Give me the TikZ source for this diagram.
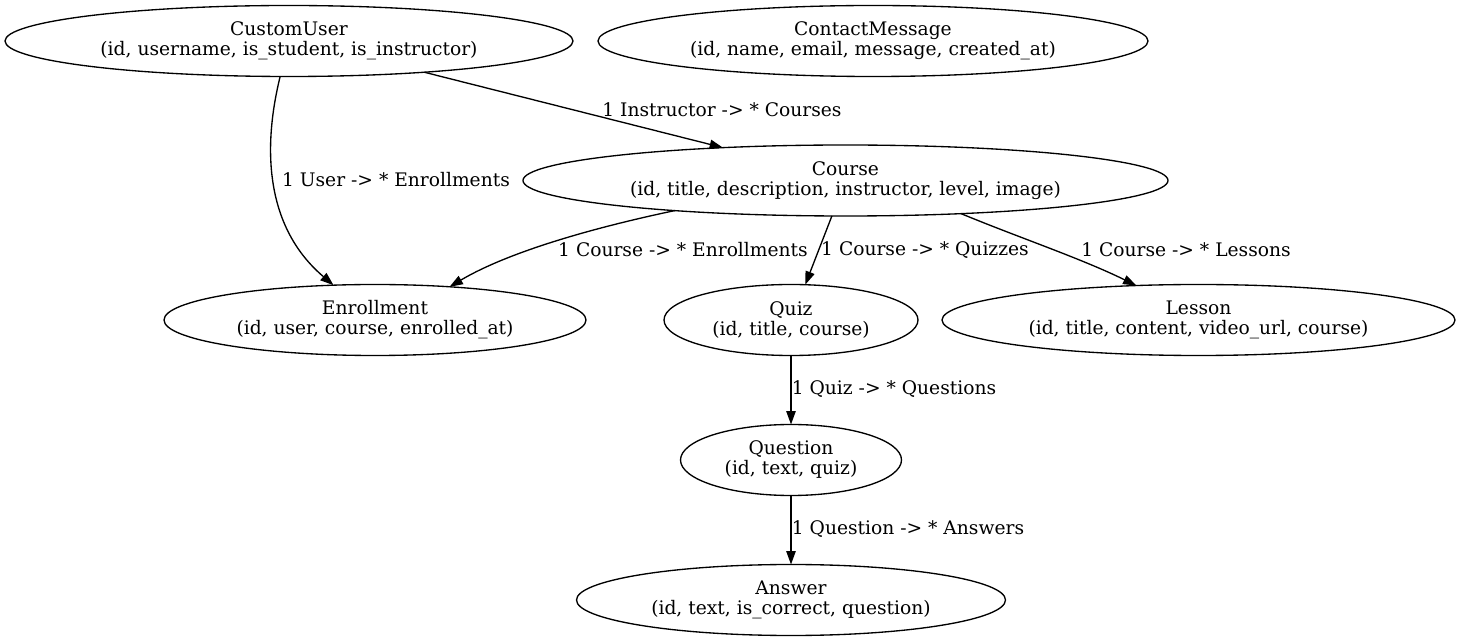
\documentclass[tikz,border=0pt]{standalone}
\usepackage{fontspec}
\setmainfont{DejaVu Serif}
\usetikzlibrary{shapes.geometric,arrows.meta}

\begin{document}
\begin{tikzpicture}[x=0.75pt,y=-0.75pt,
	ent/.style={draw,ellipse,line width=1pt,inner sep=0,outer sep=0,minimum height=53.25pt,align=center,font=\fontsize{14}{15}\selectfont},
	lab/.style={inner sep=0,font=\fontsize{14}{15}\selectfont},
	rel/.style={line width=1pt,-{Triangle[length=10pt,width=7pt]}}]
	\useasboundingbox (0,0) rectangle (1461,641);
	\node[ent,minimum width=426pt] (user) at (289,41) {CustomUser\\(id, username, is\_student, is\_instructor)};
	\node[ent,minimum width=412.5pt] (contact) at (873,41) {ContactMessage\\(id, name, email, message, created\_at)};
	\node[ent,minimum width=483.75pt] (course) at (845.5,180.5) {Course\\(id, title, description, instructor, level, image)};
	\node[ent,minimum width=316.5pt] (enroll) at (375,320) {Enrollment\\(id, user, course, enrolled\_at)};
	\node[ent,minimum width=190.5pt] (quiz) at (791,320) {Quiz\\(id, title, course)};
	\node[ent,minimum width=384.75pt] (lesson) at (1198.5,320) {Lesson\\(id, title, content, video\_url, course)};
	\node[ent,minimum width=165.75pt] (question) at (791,460) {Question\\(id, text, quiz)};
	\node[ent,minimum width=321.75pt] (answer) at (791,600) {Answer\\(id, text, is\_correct, question)};
	\draw[rel] (user.-104.2) .. controls (262,150) and (266,228) .. (enroll.140.9);
	\draw[rel] (user.-13.9) -- (course.165.8);
	\draw[rel] (course.-170.1) .. controls (630,220) and (520,245) .. (enroll.24.8);
	\draw[rel] (course.-111.3) -- (quiz.68.1);
	\draw[rel] (course.-16.5) .. controls (1020,238) and (1080,258) .. (lesson.151.2);
	\draw[rel] (quiz) -- (question);
	\draw[rel] (question) -- (answer);
	\node[lab] (l1) at (722,110) {1 Instructor -> * Courses};
	\node[lab] (l2) at (396,180) {1 User -> * Enrollments};
	\node[lab] (l3) at (683,250) {1 Course -> * Enrollments};
	\node[lab] (l4) at (925,250) {1 Course -> * Quizzes};
	\node[lab] (l5) at (1186,250) {1 Course -> * Lessons};
	\node[lab] (l6) at (894,389) {1 Quiz -> * Questions};
	\node[lab] (l7) at (908,529) {1 Question -> * Answers};
\end{tikzpicture}
\end{document}
